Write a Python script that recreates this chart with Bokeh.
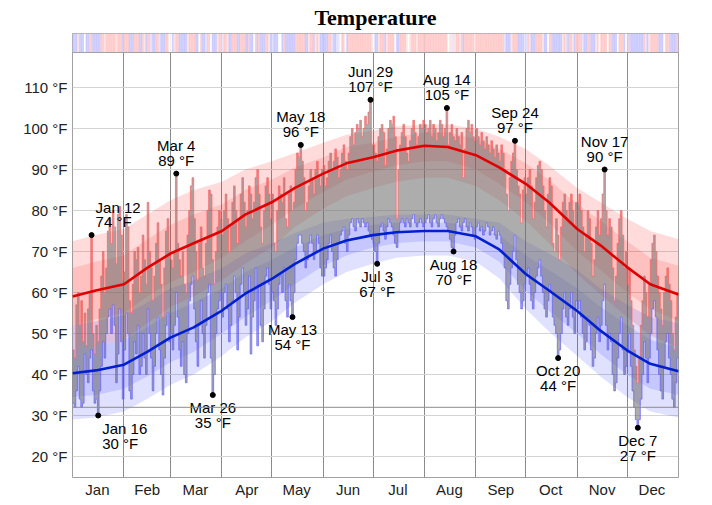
import numpy as np
from bokeh.plotting import figure
from bokeh.models import Range1d, FixedTicker, Span, ColumnDataSource
from bokeh.core.properties import value
from bokeh.embed import file_html
from bokeh.resources import INLINE

# ---------------- data ----------------
months = ["Jan", "Feb", "Mar", "Apr", "May", "Jun", "Jul", "Aug", "Sep", "Oct", "Nov", "Dec"]
month_days = [31, 28, 31, 30, 31, 30, 31, 31, 30, 31, 30, 31]
y_ticks = [20, 30, 40, 50, 60, 70, 80, 90, 100, 110]

hi_jan = [46, 44, 57, 60, 52, 58, 48, 55, 47, 56, 60, 74, 50, 45, 52, 48, 56, 64, 70, 60, 66, 75, 78, 72, 80, 76, 67, 79, 81, 74, 63]
lo_jan = [33, 32, 36, 42, 34, 32, 33, 45, 40, 38, 44, 46, 36, 33, 34, 30, 36, 42, 48, 44, 50, 54, 56, 50, 57, 52, 38, 45, 56, 48, 34]
hi_feb = [65, 79, 76, 58, 55, 62, 70, 68, 71, 60, 64, 74, 68, 62, 82, 70, 66, 58, 64, 72, 77, 68, 62, 54, 66, 75, 78, 70]
lo_feb = [46, 55, 50, 36, 34, 40, 48, 45, 52, 40, 42, 50, 44, 40, 56, 50, 44, 36, 42, 50, 54, 46, 40, 35, 44, 52, 55, 48]
hi_mar = [68, 66, 70, 89, 72, 68, 64, 70, 62, 60, 74, 80, 86, 88, 78, 70, 63, 72, 76, 66, 64, 72, 80, 85, 84, 68, 62, 70, 76, 80, 78]
lo_mar = [50, 46, 52, 60, 54, 46, 42, 48, 40, 38, 50, 58, 62, 64, 56, 48, 42, 52, 58, 50, 44, 52, 60, 62, 44, 35, 40, 50, 56, 58, 60]
hi_apr = [74, 80, 84, 78, 70, 76, 82, 86, 80, 72, 78, 84, 88, 82, 76, 80, 86, 84, 78, 82, 88, 90, 84, 76, 72, 80, 86, 88, 84, 78]
lo_apr = [54, 60, 62, 56, 48, 52, 58, 64, 60, 46, 54, 62, 66, 60, 52, 56, 64, 45, 54, 58, 66, 47, 62, 52, 48, 56, 64, 66, 62, 56]
hi_may = [84, 72, 70, 80, 86, 84, 82, 88, 78, 76, 84, 86, 80, 82, 90, 94, 93, 96, 92, 88, 80, 82, 86, 90, 88, 84, 90, 92, 88, 86, 90]
lo_may = [60, 58, 52, 56, 62, 64, 60, 66, 58, 54, 62, 58, 54, 60, 68, 72, 74, 74, 72, 70, 66, 68, 72, 74, 72, 68, 70, 74, 72, 66, 64]
hi_jun = [91, 86, 88, 92, 94, 90, 92, 95, 93, 88, 90, 94, 96, 92, 90, 94, 98, 100, 96, 99, 101, 100, 102, 98, 100, 103, 101, 104, 107, 96]
lo_jun = [64, 66, 68, 72, 74, 70, 66, 64, 68, 72, 74, 75, 76, 72, 70, 74, 77, 78, 76, 75, 78, 77, 76, 78, 77, 76, 77, 75, 74, 73]
hi_jul = [96, 94, 92, 98, 100, 101, 99, 91, 95, 100, 102, 101, 103, 98, 78, 90, 96, 99, 101, 98, 94, 92, 97, 100, 102, 99, 96, 98, 101, 100, 102]
lo_jul = [72, 70, 67, 72, 76, 77, 75, 73, 76, 78, 77, 76, 74, 72, 71, 75, 77, 78, 77, 76, 78, 77, 76, 78, 79, 77, 76, 77, 78, 77, 76]
hi_aug = [101, 99, 100, 102, 98, 101, 100, 97, 99, 102, 101, 98, 100, 105, 96, 99, 101, 98, 97, 100, 98, 96, 99, 88, 95, 100, 102, 99, 101, 98, 97]
lo_aug = [77, 78, 79, 77, 76, 78, 79, 77, 76, 78, 79, 78, 77, 76, 75, 73, 71, 70, 74, 77, 78, 76, 75, 77, 78, 76, 75, 77, 76, 74, 73]
hi_sep = [100, 98, 96, 99, 97, 95, 98, 96, 94, 97, 95, 93, 96, 94, 92, 96, 94, 90, 84, 80, 88, 92, 94, 97, 90, 86, 84, 77, 85, 88]
lo_sep = [76, 77, 75, 76, 74, 75, 77, 76, 74, 75, 76, 74, 73, 75, 74, 72, 70, 66, 58, 56, 62, 66, 70, 74, 68, 62, 60, 56, 58, 62]
hi_oct = [84, 88, 90, 86, 78, 82, 88, 91, 92, 90, 86, 80, 76, 84, 88, 86, 72, 70, 78, 74, 68, 76, 82, 84, 80, 78, 82, 84, 80, 76, 82]
lo_oct = [64, 66, 62, 58, 56, 60, 64, 66, 68, 64, 60, 56, 54, 58, 62, 60, 54, 52, 50, 44, 46, 50, 56, 60, 54, 52, 56, 60, 54, 50, 58]
hi_nov = [82, 84, 80, 76, 70, 74, 80, 78, 72, 64, 68, 76, 80, 74, 78, 84, 90, 80, 74, 78, 76, 66, 58, 64, 72, 78, 80, 74, 66, 70]
lo_nov = [56, 58, 54, 50, 46, 48, 54, 52, 46, 42, 44, 50, 54, 48, 52, 58, 62, 52, 46, 50, 48, 40, 36, 38, 44, 50, 54, 46, 40, 42]
hi_dec = [62, 66, 58, 52, 46, 42, 38, 44, 52, 58, 64, 60, 54, 62, 68, 72, 74, 70, 64, 60, 56, 52, 60, 64, 66, 62, 58, 50, 46, 54, 60]
lo_dec = [46, 50, 42, 36, 32, 29, 27, 29, 34, 40, 48, 44, 38, 44, 50, 56, 58, 54, 46, 40, 36, 34, 42, 48, 50, 44, 40, 34, 32, 38, 44]

# normals (anchor dates)
anchor_dates = ["Jan 1", "Jan 15", "Feb 1", "Feb 15", "Mar 1", "Mar 15", "Apr 1", "Apr 15", "May 1",
                "May 15", "Jun 1", "Jun 15", "Jul 1", "Jul 15", "Aug 1", "Aug 15", "Sep 1", "Sep 15",
                "Oct 1", "Oct 15", "Nov 1", "Nov 15", "Dec 1", "Dec 15", "Dec 31"]
avg_high = [59, 60.5, 62, 66, 69.5, 72, 75, 79, 82, 85.5, 89, 91.5, 93, 94.6, 95.8, 95.5, 93.5, 90.5, 86.5, 82, 75.5, 71.5, 66.2, 62, 59.5]
avg_low = [40.3, 41, 42.4, 45.5, 49, 51.5, 55.6, 59.7, 63.3, 67, 70.7, 72.7, 74, 74.7, 75, 75, 73.7, 70.5, 64.5, 60.5, 55.5, 50.7, 45.9, 42.6, 40.8]
high_p10 = [46, 47, 48.5, 52.5, 56.5, 59, 63, 67, 71, 76, 80.5, 83.5, 85.5, 87, 88, 88, 86, 82.5, 77.5, 72, 64.5, 59.5, 54, 49.5, 46.5]
high_p25 = [52, 53.5, 55, 59, 62.5, 65, 68.5, 72.5, 76.5, 80.5, 84.5, 87.5, 89.5, 91, 92, 92, 90, 86.5, 82, 77, 70, 65.5, 60, 56, 53]
high_p75 = [66, 67.5, 69, 73, 76.5, 79, 81.5, 85, 87.5, 90.5, 93, 95.5, 96.5, 98, 99, 99, 97.5, 95, 91.5, 87.5, 81.5, 77.5, 72.5, 68.5, 66.5]
high_p90 = [72.5, 74, 75.5, 79, 82.5, 85, 87, 90, 92, 94, 96.5, 98.5, 99.5, 100.5, 101, 101, 100, 98, 95, 91, 85.5, 82, 78, 75, 73]
low_p10 = [29, 29.5, 31, 34, 37.5, 40, 44.5, 49, 53, 57.5, 62, 65, 67, 68.5, 69, 69, 67.5, 63.5, 56, 50.5, 44.5, 39.5, 34.5, 31, 29.5]
low_p25 = [34.5, 35, 36.5, 39.5, 43, 45.5, 50, 54, 58, 62, 66.5, 69, 71, 72, 72.5, 72.5, 71, 67.5, 60.5, 55.5, 50, 45, 40, 36.5, 35]
low_p75 = [46, 47, 48.5, 51.5, 55, 57.5, 61, 65, 68, 71, 74, 75.5, 76.5, 77, 77, 77, 76, 74, 69, 65.5, 61, 56.5, 52, 48.5, 46.5]
low_p90 = [52, 53, 54.5, 57.5, 61, 63, 66, 69.5, 72, 74.5, 77, 78, 78.5, 79, 79, 79, 78, 77, 72.5, 69.5, 65.5, 61, 57, 54, 52.5]

record_dates = ["Jan 12", "Jan 16", "Mar 4", "Mar 26", "May 13", "May 18", "Jun 29", "Jul 3",
                "Aug 14", "Aug 18", "Sep 24", "Oct 20", "Nov 17", "Dec 7"]
record_kind = ["high", "low", "high", "low", "low", "high", "high", "low",
               "high", "low", "high", "low", "high", "low"]
record_align = ["left", "left", "center", "center", "center", "center", "center", "center",
                "center", "center", "center", "center", "center", "center"]

# ---------------- derived ----------------
highs = hi_jan + hi_feb + hi_mar + hi_apr + hi_may + hi_jun + hi_jul + hi_aug + hi_sep + hi_oct + hi_nov + hi_dec
lows = lo_jan + lo_feb + lo_mar + lo_apr + lo_may + lo_jun + lo_jul + lo_aug + lo_sep + lo_oct + lo_nov + lo_dec
n_days = len(highs)
month_start = list(np.cumsum([0] + month_days[:-1]))


def day_index(s):
    m, d = s.split()
    return int(month_start[months.index(m)]) + int(d) - 1


anchor_x = [day_index(s) + (1 if s == "Dec 31" else 0) for s in anchor_dates]

# layout constants
Y0, Y1 = 14.88, 123.17           # y range (°F), frame 444 px -> 4.1 px/°F
PX = 4.1                         # px per °F
STRIP_BOTTOM = 118.54
DAYPX = 606 / 365.0

p = figure(frame_width=606, frame_height=444, min_border_left=72, min_border_right=34,
           min_border_top=33, min_border_bottom=28,
           x_range=Range1d(0, 365), y_range=Range1d(Y0, Y1),
           output_backend="svg", toolbar_location=None,
           background_fill_color="white", border_fill_color="white")
p.outline_line_color = "#a0a0a0"

p.title.text = "Temperature"
p.title.align = "center"
p.title.vertical_align = "top"
p.title.text_font = "Liberation Serif"
p.title.text_font_style = "bold"
p.title.text_font_size = "22px"
p.title.text_color = "black"
p.title.standoff = 4

# grids
p.ygrid.ticker = FixedTicker(ticks=y_ticks)
p.ygrid.grid_line_color = "#d4d4d4"
p.xgrid.ticker = FixedTicker(ticks=[int(s) for s in month_start[1:]])
p.xgrid.grid_line_color = "#8c8c8c"

# axes
p.yaxis.ticker = FixedTicker(ticks=y_ticks)
p.yaxis.major_label_overrides = {t: f"{t} °F" for t in y_ticks}
mid = [int(s) + nd // 2 for s, nd in zip(month_start, month_days)]
p.xaxis.ticker = FixedTicker(ticks=mid)
p.xaxis.major_label_overrides = {m: name for m, name in zip(mid, months)}
for ax in (p.xaxis[0], p.yaxis[0]):
    ax.axis_line_color = None
    ax.major_tick_line_color = None
    ax.minor_tick_line_color = None
    ax.major_tick_out = 0
    ax.major_tick_in = 0
    ax.major_label_text_font = "Liberation Sans"
    ax.major_label_text_font_size = "15px"
    ax.major_label_text_color = "#222222"
p.yaxis.major_label_standoff = 5
p.xaxis.major_label_standoff = 3

# bands
p.varea(x=anchor_x, y1=high_p10, y2=high_p90, fill_color="#ff0000", fill_alpha=0.14)
p.varea(x=anchor_x, y1=high_p25, y2=high_p75, fill_color="#ff0000", fill_alpha=0.12)
p.varea(x=anchor_x, y1=low_p10, y2=low_p90, fill_color="#0000ff", fill_alpha=0.12)
p.varea(x=anchor_x, y1=low_p25, y2=low_p75, fill_color="#0000ff", fill_alpha=0.11)

# daily range as one stepped polygon
xs, ys = [], []
for d in range(n_days):
    xs += [d, d + 1]
    ys += [highs[d], highs[d]]
for d in reversed(range(n_days)):
    xs += [d + 1, d]
    ys += [lows[d], lows[d]]
p.patch(xs, ys, fill_color="#6a6a6a", fill_alpha=0.55, line_color=None)

days_ext = list(range(n_days + 1))
p.step(days_ext, highs + [highs[-1]], mode="after", line_color="#ff6060", line_alpha=0.7, line_width=1)
p.step(days_ext, lows + [lows[-1]], mode="after", line_color="#6060ff", line_alpha=0.7, line_width=1)

# normals
p.line(anchor_x, avg_high, line_color="#e00000", line_width=2.6)
p.line(anchor_x, avg_low, line_color="#0020d0", line_width=2.6)

# freezing line
p.add_layout(Span(location=32, dimension="width", line_color="#8c8c8c", line_width=1))

# anomaly strip
nh = np.interp(np.arange(n_days) + 0.5, anchor_x, avg_high)
nl = np.interp(np.arange(n_days) + 0.5, anchor_x, avg_low)
anom = (np.array(highs) + np.array(lows)) / 2 - (nh + nl) / 2
cols = []
for a in anom:
    if a >= 1.5:
        cols.append("#ffcccc")
    elif a >= 0.5:
        cols.append("#ffe4e4")
    elif a > -0.5:
        cols.append("#ffffff")
    elif a > -1.5:
        cols.append("#e4e4ff")
    else:
        cols.append("#ccccff")
p.quad(left=list(range(n_days)), right=list(range(1, n_days + 1)),
       bottom=STRIP_BOTTOM, top=Y1, fill_color=cols, line_color=cols, line_width=0.3)
p.add_layout(Span(location=STRIP_BOTTOM, dimension="width", line_color="#a0a0a0", line_width=1))

# record labels
rx, ry, t1y, t2y, t1, t2, al = [], [], [], [], [], [], []
for s, k, a in zip(record_dates, record_kind, record_align):
    d = day_index(s)
    v = highs[d] if k == "high" else lows[d]
    x = d + 0.5
    rx.append(x)
    ry.append(v)
    if k == "high":
        t1y.append(v + 28 / PX)
        t2y.append(v + 13.5 / PX)
    else:
        t1y.append(v - 12.5 / PX)
        t2y.append(v - 27.5 / PX)
    t1.append(s)
    t2.append(f"{v} °F")
    al.append(a)
src = ColumnDataSource(dict(x=rx, y=ry, tx=[x + (4 / DAYPX if a == "left" else 0) for x, a in zip(rx, al)],
                            y1=t1y, y2=t2y, t1=t1, t2=t2, al=al))
p.scatter("x", "y", source=src, size=5, color="black")
for yk, tk in (("y1", "t1"), ("y2", "t2")):
    p.text(x="tx", y=yk, text=tk, source=src, text_align="al", text_baseline="middle",
           text_font=value("Liberation Sans"), text_font_size=value("15px"), text_color="black")

open("out.html", "w").write(file_html(p, INLINE, title="Temperature"))
